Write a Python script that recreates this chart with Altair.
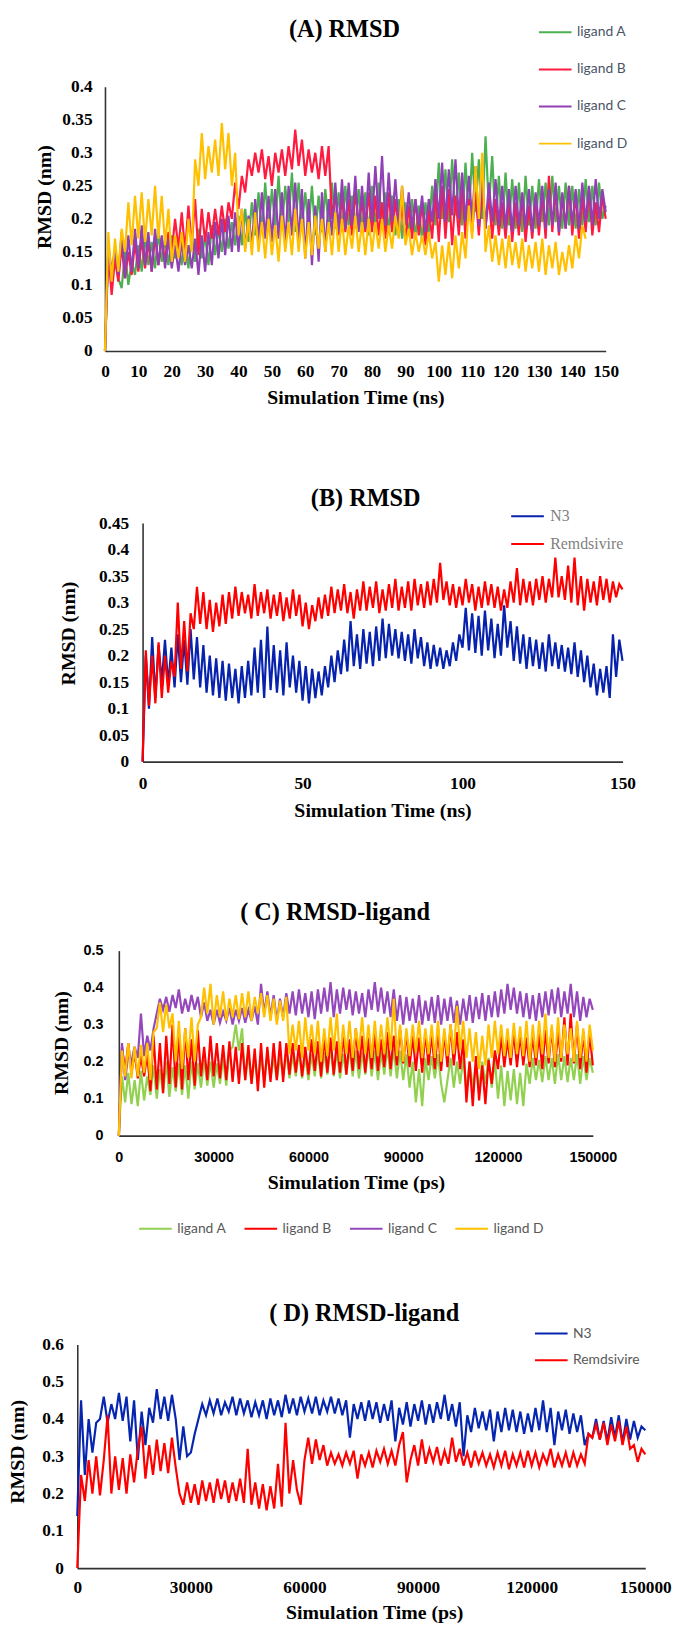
import altair as alt
import pandas as pd

SERIF = "Liberation Serif"
SANS = "Lato"
LSANS = "Liberation Sans"

# ---------------- data (RMSD values in units of 0.001 nm) ----------------
# Panel A : time in ns
a_time = list(range(0, 151))
a_names = ["ligand A", "ligand B", "ligand C", "ligand D"]
a_colors = ["#4caf50", "#ff1a40", "#9040b4", "#ffc000"]
a_lig_a = [0, 155, 100, 140, 110, 95, 150, 100, 135, 115,
           160, 120, 175, 130, 165, 125, 180, 135, 170, 130,
           175, 140, 165, 130, 170, 125, 175, 135, 185, 140,
           175, 130, 190, 145, 185, 150, 200, 155, 195, 160,
           205, 160, 215, 165, 225, 175, 240, 180, 255, 185,
           245, 190, 265, 185, 250, 195, 270, 180, 255, 190,
           240, 185, 250, 175, 235, 180, 245, 190, 255, 185,
           240, 180, 250, 190, 235, 185, 245, 180, 240, 175,
           250, 185, 255, 190, 240, 180, 235, 175, 230, 170,
           225, 175, 230, 170, 220, 165, 225, 180, 250, 190,
           285, 200, 275, 195, 290, 205, 270, 190, 285, 200,
           300, 210, 290, 200, 325, 215, 295, 190, 265, 185,
           270, 190, 260, 185, 255, 180, 265, 190, 250, 185,
           260, 195, 255, 190, 265, 195, 250, 185, 255, 190,
           250, 185, 245, 190, 260, 195, 250, 190, 255, 200, 220]
a_lig_b = [0, 150, 85, 140, 105, 160, 110, 150, 115, 165,
           120, 170, 125, 165, 120, 175, 130, 170, 135, 180,
           150, 200, 155, 210, 150, 220, 160, 230, 145, 215,
           165, 210, 170, 215, 175, 220, 180, 225, 200, 255,
           215, 265, 240, 290, 265, 300, 270, 305, 260, 295,
           250, 300, 270, 305, 265, 310, 275, 335, 280, 320,
           265, 305, 270, 300, 260, 310, 265, 310, 200, 240,
           175, 235, 180, 230, 175, 245, 185, 230, 180, 240,
           180, 235, 175, 225, 170, 240, 180, 230, 175, 225,
           165, 220, 170, 230, 175, 225, 160, 215, 170, 240,
           165, 250, 170, 245, 160, 235, 175, 250, 170, 230,
           180, 240, 175, 245, 185, 235, 170, 230, 175, 225,
           170, 230, 165, 225, 175, 235, 165, 220, 170, 230,
           175, 240, 170, 265, 180, 245, 175, 235, 185, 250,
           175, 240, 170, 235, 180, 245, 175, 225, 180, 235, 200]
a_lig_c = [0, 160, 120, 155, 115, 180, 110, 175, 120, 185,
           125, 190, 130, 180, 120, 185, 130, 175, 125, 170,
           125, 160, 120, 165, 130, 160, 125, 170, 115, 175,
           120, 180, 130, 195, 140, 200, 145, 205, 150, 210,
           150, 215, 155, 205, 160, 230, 165, 240, 170, 235,
           165, 245, 170, 240, 160, 250, 175, 255, 165, 245,
           140, 230, 130, 220, 135, 240, 150, 230, 175, 255,
           180, 260, 185, 255, 190, 265, 180, 250, 185, 270,
           195, 280, 200, 295, 190, 270, 195, 260, 185, 250,
           190, 240, 185, 230, 190, 235, 180, 230, 195, 260,
           200, 285, 195, 275, 205, 290, 200, 270, 195, 265,
           200, 280, 190, 265, 185, 255, 195, 260, 190, 250,
           185, 245, 180, 250, 190, 240, 185, 245, 180, 240,
           190, 250, 185, 245, 190, 255, 180, 240, 185, 250,
           190, 245, 185, 255, 195, 250, 190, 260, 200, 245, 210]
a_lig_d = [0, 180, 105, 170, 120, 185, 150, 225, 160, 235,
           170, 240, 165, 230, 175, 250, 170, 235, 160, 215,
           135, 175, 140, 180, 135, 200, 150, 290, 250, 330,
           260, 310, 270, 320, 265, 345, 275, 330, 250, 300,
           175, 215, 150, 200, 145, 210, 150, 195, 140, 200,
           145, 190, 135, 205, 150, 195, 145, 215, 150, 200,
           140, 195, 145, 205, 155, 200, 150, 195, 145, 210,
           150, 200, 145, 190, 155, 205, 150, 195, 145, 200,
           150, 195, 155, 200, 150, 190, 155, 205, 170, 250,
           160, 185, 145, 180, 150, 175, 145, 180, 140, 165,
           105, 160, 115, 165, 110, 175, 125, 180, 140, 220,
           170, 280, 200, 300, 150, 190, 135, 175, 130, 170,
           125, 175, 130, 165, 125, 170, 120, 160, 125, 165,
           120, 170, 115, 160, 125, 165, 115, 150, 120, 160,
           125, 175, 140, 190, 170]

# Panel B : time in ns
b_time = list(range(0, 151))
b_names = ["N3", "Remdsivire"]
b_colors = ["#0722ad", "#ff0000"]
b_n3 = [0, 200, 100, 235, 120, 220, 150, 230, 145, 215,
        140, 240, 150, 230, 145, 250, 155, 235, 140, 220,
        130, 200, 125, 195, 120, 190, 115, 185, 120, 175,
        110, 180, 120, 190, 125, 215, 130, 230, 120, 255,
        135, 220, 130, 210, 125, 225, 140, 200, 130, 190,
        115, 180, 110, 175, 120, 170, 125, 180, 140, 200,
        150, 210, 165, 230, 170, 265, 180, 240, 175, 250,
        185, 245, 180, 255, 190, 270, 195, 260, 200, 250,
        195, 245, 190, 240, 185, 250, 195, 235, 180, 225,
        175, 220, 180, 215, 175, 210, 180, 225, 190, 240,
        215, 290, 210, 280, 205, 275, 200, 285, 210, 270,
        195, 260, 200, 295, 215, 265, 190, 255, 185, 240,
        175, 235, 180, 230, 175, 225, 170, 240, 180, 225,
        175, 220, 170, 215, 165, 225, 160, 210, 150, 200,
        140, 185, 125, 175, 130, 180, 120, 240, 160, 230, 190]
b_remd = [0, 210, 105, 200, 110, 225, 120, 200, 130, 190,
          160, 300, 175, 265, 170, 280, 250, 330, 260, 320,
          250, 305, 245, 300, 255, 315, 260, 320, 270, 330,
          275, 320, 280, 315, 270, 335, 275, 320, 280, 325,
          270, 315, 275, 320, 265, 310, 270, 325, 275, 315,
          255, 300, 250, 295, 265, 310, 270, 315, 275, 330,
          280, 325, 285, 335, 280, 320, 270, 325, 285, 340,
          285, 330, 290, 340, 280, 325, 285, 335, 290, 345,
          285, 330, 290, 340, 285, 345, 295, 335, 290, 340,
          295, 345, 300, 375, 305, 340, 295, 335, 290, 330,
          295, 345, 300, 335, 285, 330, 290, 340, 295, 335,
          290, 330, 285, 325, 290, 340, 300, 365, 295, 345,
          300, 340, 295, 345, 305, 350, 300, 345, 310, 385,
          310, 350, 305, 370, 300, 385, 295, 350, 285, 345,
          300, 340, 295, 350, 305, 345, 300, 340, 310, 335, 325]

# Panel C : time in ps
c_time = [k * 1000 for k in range(0, 151)]
c_names = ["ligand A", "ligand B", "ligand C", "ligand D"]
c_colors = ["#92d050", "#ff0000", "#9448bc", "#ffc000"]
c_lig_a = [0, 160, 90, 170, 85, 150, 80, 175, 95, 160,
           110, 190, 100, 180, 115, 200, 105, 185, 120, 195,
           110, 190, 100, 200, 125, 195, 130, 205, 135, 200,
           130, 195, 140, 210, 135, 230, 240, 300, 230, 290,
           150, 220, 140, 210, 145, 215, 150, 220, 155, 210,
           150, 215, 160, 225, 155, 220, 160, 230, 155, 215,
           150, 220, 160, 230, 155, 225, 165, 240, 160, 230,
           155, 220, 165, 235, 160, 230, 155, 225, 165, 240,
           160, 230, 150, 225, 165, 240, 160, 235, 155, 230,
           150, 220, 130, 200, 90, 180, 80, 210, 150, 215,
           155, 220, 140, 90, 150, 210, 130, 200, 140, 210,
           120, 200, 130, 190, 125, 200, 140, 210, 130, 205,
           100, 190, 80, 175, 95, 180, 85, 170, 80, 195,
           140, 210, 150, 205, 145, 215, 150, 210, 140, 220,
           150, 215, 145, 210, 150, 220, 140, 215, 150, 210, 170]
c_lig_b = [0, 240, 175, 250, 170, 225, 155, 215, 160, 220,
           120, 270, 125, 250, 115, 270, 140, 300, 130, 280,
           125, 290, 150, 260, 135, 285, 160, 240, 150, 270,
           160, 250, 155, 245, 150, 255, 145, 240, 140, 250,
           150, 245, 140, 235, 120, 250, 130, 240, 145, 250,
           150, 255, 145, 250, 165, 250, 170, 245, 160, 240,
           165, 260, 175, 255, 160, 270, 170, 265, 165, 255,
           170, 280, 165, 260, 175, 290, 180, 270, 170, 265,
           180, 275, 175, 260, 185, 280, 180, 270, 190, 290,
           195, 280, 185, 270, 175, 265, 170, 280, 190, 275,
           180, 290, 175, 280, 185, 300, 190, 280, 180, 260,
           90, 200, 80, 215, 95, 190, 85, 205, 140, 230,
           180, 270, 185, 260, 190, 280, 185, 275, 190, 265,
           185, 270, 190, 275, 180, 285, 195, 290, 185, 280,
           200, 320, 190, 330, 195, 300, 180, 280, 170, 275, 190]
c_lig_c = [0, 250, 150, 220, 200, 240, 210, 330, 215, 270,
           230, 290, 330, 370, 340, 375, 335, 380, 345, 395,
           330, 370, 335, 380, 340, 375, 320, 360, 310, 340,
           300, 340, 305, 335, 310, 345, 300, 340, 310, 345,
           305, 340, 310, 350, 300, 410, 330, 390, 320, 380,
           310, 370, 320, 385, 330, 390, 325, 395, 330, 385,
           320, 390, 315, 395, 330, 400, 335, 415, 320, 395,
           330, 400, 340, 395, 325, 390, 330, 385, 320, 395,
           340, 415, 335, 400, 330, 390, 320, 395, 310, 380,
           300, 375, 310, 370, 305, 380, 300, 365, 310, 375,
           305, 380, 300, 370, 310, 375, 305, 365, 300, 370,
           310, 380, 305, 375, 315, 385, 310, 380, 320, 390,
           320, 395, 330, 410, 340, 400, 330, 390, 320, 385,
           315, 380, 310, 385, 320, 390, 325, 395, 330, 400,
           320, 390, 330, 410, 320, 390, 310, 375, 320, 370, 340]
c_lig_d = [0, 230, 160, 250, 155, 240, 160, 245, 170, 250,
           150, 280, 290, 360, 280, 355, 290, 330, 200, 310,
           180, 290, 210, 320, 200, 300, 320, 400, 330, 410,
           300, 380, 320, 390, 310, 370, 320, 380, 315, 385,
           320, 390, 310, 375, 330, 385, 320, 380, 310, 370,
           300, 365, 310, 375, 220, 300, 230, 310, 210, 320,
           230, 300, 220, 310, 200, 290, 215, 320, 230, 330,
           200, 300, 220, 310, 210, 290, 230, 320, 220, 300,
           210, 310, 215, 300, 220, 320, 230, 370, 215, 300,
           200, 290, 215, 300, 225, 310, 210, 290, 220, 300,
           210, 310, 200, 290, 215, 300, 220, 350, 230, 310,
           210, 290, 200, 280, 180, 270, 190, 300, 210, 310,
           220, 300, 215, 290, 210, 305, 220, 295, 215, 310,
           200, 300, 210, 310, 220, 330, 210, 300, 200, 320,
           210, 300, 220, 290, 200, 310, 210, 290, 200, 300, 230]

# Panel D : time in ps
d_time = [k * 1000 for k in range(0, 151)]
d_names = ["N3", "Remdsivire"]
d_colors = ["#0726b0", "#ff0000"]
d_n3 = [140, 450, 250, 400, 310, 390, 400, 460, 390, 440,
        400, 470, 395, 460, 340, 450, 290, 420, 330, 430,
        390, 480, 400, 460, 395, 465, 400, 290, 380, 300,
        310, 360, 400, 440, 410, 450, 415, 455, 410, 445,
        420, 460, 410, 455, 415, 450, 405, 445, 410, 450,
        400, 455, 410, 450, 405, 465, 415, 455, 410, 460,
        420, 455, 415, 460, 410, 450, 420, 460, 415, 455,
        410, 450, 350, 440, 400, 445, 395, 450, 400, 445,
        390, 440, 395, 450, 340, 430, 385, 445, 380, 440,
        395, 450, 385, 440, 390, 445, 400, 465, 395, 440,
        380, 445, 300, 410, 365, 430, 375, 420, 370, 425,
        340, 420, 365, 430, 370, 425, 365, 420, 360, 415,
        365, 430, 370, 450, 365, 430, 330, 420, 370, 425,
        360, 415, 365, 410, 330, 360, 350, 400, 345, 395,
        340, 405, 350, 410, 335, 400, 345, 395, 350, 380, 370]
d_remd = [0, 250, 180, 290, 200, 300, 195, 290, 410, 200,
          300, 210, 295, 200, 305, 230, 320, 380, 240, 330,
          250, 345, 260, 335, 255, 350, 270, 200, 170, 230,
          175, 225, 170, 235, 180, 230, 175, 240, 185, 235,
          175, 230, 180, 240, 175, 320, 170, 230, 160, 225,
          155, 220, 160, 280, 165, 390, 200, 290, 210, 170,
          290, 350, 280, 345, 290, 330, 275, 310, 280, 305,
          275, 310, 280, 315, 240, 305, 275, 310, 270, 315,
          285, 320, 280, 315, 275, 330, 365, 230, 290, 330,
          275, 345, 280, 320, 285, 325, 275, 315, 280, 350,
          285, 320, 275, 310, 270, 315, 280, 310, 275, 305,
          270, 310, 275, 315, 265, 305, 275, 310, 270, 315,
          275, 310, 270, 305, 280, 320, 270, 305, 275, 310,
          270, 310, 275, 305, 280, 360, 350, 385, 345, 390,
          330, 385, 340, 395, 330, 380, 320, 330, 285, 320, 305]

# axis tick values and labels
a_xticks = [0, 10, 20, 30, 40, 50, 60, 70, 80, 90, 100, 110, 120, 130, 140, 150]
a_yticks = [0, 0.05, 0.1, 0.15, 0.2, 0.25, 0.3, 0.35, 0.4]
b_xticks = [0, 50, 100, 150]
b_yticks = [0, 0.05, 0.1, 0.15, 0.2, 0.25, 0.3, 0.35, 0.4, 0.45]
cd_xticks = [0, 30000, 60000, 90000, 120000, 150000]
c_yticks = [0, 0.1, 0.2, 0.3, 0.4, 0.5]
d_yticks = [0, 0.1, 0.2, 0.3, 0.4, 0.5, 0.6]


def build_table(times, names, series):
    rows = []
    for name, vals in zip(names, series):
        for t, v in zip(times, vals):
            rows.append({"time": t, "rmsd": v / 1000.0, "series": name})
    return pd.DataFrame(rows)


def panel(df, names, colors, *, width, height, xr, yr, xdom, ydom, xvals, yvals,
          yfmt, lab_font, lab_size, xtitle, yoff, ytx, yty, xty, xtx, ylabpad,
          xlabpad, title, tdx, tdy, legend):
    x_axis_kw = dict(values=xvals, format="d", title=xtitle, grid=False, ticks=False,
                     tickSize=0, domainColor="#333333", domainWidth=1.6,
                     labelFont=lab_font, labelFontSize=lab_size, labelFontWeight="bold",
                     labelColor="black", labelPadding=xlabpad, labelOverlap=False,
                     labelFlush=False, titleFont=SERIF, titleFontSize=20,
                     titleFontWeight="bold", titleColor="black", titleY=xty,
                     titleBaseline="middle")
    if xtx is not None:
        x_axis_kw["titleX"] = xtx
    y_axis = alt.Axis(values=yvals, format=yfmt, title="RMSD (nm)", grid=False,
                      ticks=False, tickSize=0, domainColor="#333333", domainWidth=1.6,
                      labelFont=lab_font, labelFontSize=lab_size, labelFontWeight="bold",
                      labelColor="black", labelPadding=ylabpad, labelOverlap=False,
                      labelFlush=False, titleFont=SERIF, titleFontSize=20,
                      titleFontWeight="bold", titleColor="black", offset=yoff,
                      titleX=ytx, titleY=yty, titleBaseline="middle", titleAngle=270)
    layers = []
    for name in names:
        layers.append(
            alt.Chart(df)
            .transform_filter(alt.datum.series == name)
            .mark_line(strokeWidth=2.2)
            .encode(
                x=alt.X("time:Q", scale=alt.Scale(domain=xdom, range=xr, nice=False),
                        axis=alt.Axis(**x_axis_kw)),
                y=alt.Y("rmsd:Q", scale=alt.Scale(domain=ydom, range=yr, nice=False),
                        axis=y_axis),
                color=alt.Color("series:N", scale=alt.Scale(domain=names, range=colors),
                                legend=legend),
            )
        )
    return alt.layer(*layers).properties(
        width=width, height=height,
        title=alt.TitleParams(text=title, font=SERIF, fontSize=24.5, fontWeight="bold",
                              color="black", anchor="middle", frame="group", offset=0,
                              dx=tdx, dy=tdy, baseline="middle"),
    )


def legend(x, y, font, size, color, row_pad, direction="vertical", col_pad=0):
    return alt.Legend(orient="none", legendX=x, legendY=y, direction=direction,
                      title=None, symbolType="M-3,0H3", symbolSize=121,
                      symbolStrokeWidth=2, labelFont=font, labelFontSize=size,
                      labelColor=color, labelOffset=15, rowPadding=row_pad,
                      columnPadding=col_pad, padding=0)


dfa = build_table(a_time, a_names, [a_lig_a, a_lig_b, a_lig_c, a_lig_d])
dfb = build_table(b_time, b_names, [b_n3, b_remd])
dfc = build_table(c_time, c_names, [c_lig_a, c_lig_b, c_lig_c, c_lig_d])
dfd = build_table(d_time, d_names, [d_n3, d_remd])

pa = panel(dfa, a_names, a_colors, width=534, height=267, xr=[28, 534], yr=[267, 0],
           xdom=[0, 150], ydom=[0, 0.4], xvals=a_xticks, yvals=a_yticks, yfmt=".2~f",
           lab_font=SERIF, lab_size=17.5, xtitle="Simulation Time (ns)", yoff=-28,
           ytx=-61, yty=111, xty=47, xtx=None, ylabpad=13, xlabpad=12,
           title="(A) RMSD", tdx=3, tdy=29,
           legend=legend(476, -62, SANS, 14, "#4a5566", 23.5))

pb = panel(dfb, b_names, b_colors, width=551, height=241, xr=[66, 551], yr=[241, 0],
           xdom=[0, 150], ydom=[0, 0.45], xvals=b_xticks, yvals=b_yticks, yfmt=".2~f",
           lab_font=SERIF, lab_size=17.5, xtitle="Simulation Time (ns)", yoff=-66,
           ytx=-75, yty=111, xty=49, xtx=None, ylabpad=14, xlabpad=13,
           title="(B) RMSD", tdx=16, tdy=15,
           legend=legend(447, -15, SERIF, 16, "#7f7f7f", 12))

pc = panel(dfc, c_names, c_colors, width=521, height=204, xr=[42, 521], yr=[204, 17],
           xdom=[0, 150000], ydom=[0, 0.5], xvals=cd_xticks, yvals=c_yticks, yfmt=".1~f",
           lab_font=LSANS, lab_size=14.5, xtitle="Simulation Time (ps)", yoff=-42,
           ytx=-58, yty=110, xty=47, xtx=None, ylabpad=16, xlabpad=15,
           title="( C) RMSD-ligand", tdx=0, tdy=4,
           legend=legend(72, 291, SANS, 14, "#595959", 0, direction="horizontal",
                         col_pad=13.5))

pd_ = panel(dfd, d_names, d_colors, width=574, height=263, xr=[0, 574], yr=[263, 37],
            xdom=[0, 150000], ydom=[0, 0.6], xvals=cd_xticks, yvals=d_yticks, yfmt=".1~f",
            lab_font=SERIF, lab_size=17.5, xtitle="Simulation Time (ps)", yoff=0,
            ytx=-60, yty=145, xty=45, xtx=300, ylabpad=14, xlabpad=11,
            title="( D) RMSD-ligand", tdx=3, tdy=31,
            legend=legend(472, 19, SANS, 14, "#595959", 13))

chart = (
    alt.vconcat(pa, pb, pc, pd_, spacing=174, bounds="flush")
    .resolve_scale(color="independent")
    .properties(padding=0)
    .configure_view(stroke=None)
)

chart.save("out.html", embed_options={"renderer": "svg", "actions": False})
